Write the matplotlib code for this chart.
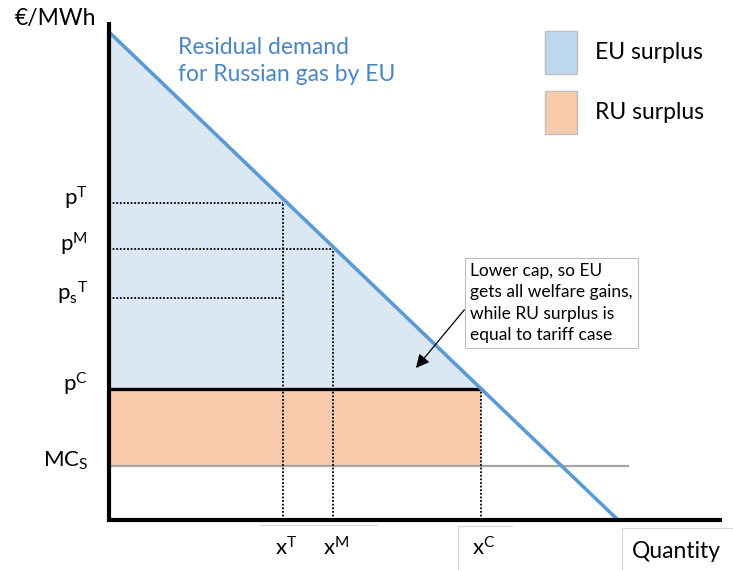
import numpy as np
import matplotlib
matplotlib.use("Agg")
import matplotlib.pyplot as plt
from matplotlib.patches import Patch

plt.rcParams['font.family'] = ['Lato', 'DejaVu Sans']
plt.rcParams['mathtext.fontset'] = 'custom'
plt.rcParams['mathtext.rm'] = 'Lato'
plt.rcParams['mathtext.it'] = 'Lato:italic'

# demand curve end points (quantity, price)
demand_q = [0.0, 50.9]
demand_p = [48.8, 0.0]

# price levels
price_names = ['pT', 'pM', 'psT', 'pC', 'MC']
price_vals = [31.7, 27.1, 22.2, 13.1, 5.4]
price_labels = [r'$\mathrm{p}^{\mathrm{T}}$', r'$\mathrm{p}^{\mathrm{M}}$',
                r'${\mathrm{p}_{\mathrm{s}}}^{\mathrm{T}}$', r'$\mathrm{p}^{\mathrm{C}}$',
                r'$\mathrm{MC}_{\mathrm{S}}$']

# quantity levels
qty_names = ['xT', 'xM', 'xC']
qty_vals = [17.4, 22.4, 37.2]
qty_labels = [r'$\mathrm{x}^{\mathrm{T}}$', r'$\mathrm{x}^{\mathrm{M}}$', r'$\mathrm{x}^{\mathrm{C}}$']

mc_end = 51.9
x_axis_end = 61.3
y_axis_end = 49.8

P = dict(zip(price_names, price_vals))
X = dict(zip(qty_names, qty_vals))

blue_fill = '#DCE7F4'
orange_fill = '#F8CBAD'
line_blue = '#5B9BD5'
text_blue = '#4A86C4'

fig = plt.figure(figsize=(7.33, 5.70), dpi=100)
ax = fig.add_axes([0, 0, 1, 1])
ax.set_xlim(-10.9, 62.4)
ax.set_ylim(-5.0, 52.0)
ax.axis('off')

# EU surplus (under demand, above cap price)
q = np.linspace(0, X['xC'], 50)
ax.fill_between(q, np.interp(q, demand_q, demand_p), P['pC'], color=blue_fill, lw=0, zorder=1)
# RU surplus
ax.fill_between([0, X['xC']], P['MC'], P['pC'], color=orange_fill, lw=0, zorder=1)

# marginal cost line
ax.plot([0, mc_end], [P['MC'], P['MC']], color='#A6A6A6', lw=1.6, zorder=2)

# dotted guides
dot = dict(color='black', lw=1.3, ls=(0, (1, 1)), zorder=3)
ax.plot([0, X['xT']], [P['pT'], P['pT']], **dot)
ax.plot([0, X['xM']], [P['pM'], P['pM']], **dot)
ax.plot([0, X['xT']], [P['psT'], P['psT']], **dot)
ax.plot([X['xT'], X['xT']], [0, P['pT']], **dot)
ax.plot([X['xM'], X['xM']], [0, P['pM']], **dot)
ax.plot([X['xC'], X['xC']], [0, P['pC']], **dot)

# price cap line
ax.plot([0, X['xC']], [P['pC'], P['pC']], color='black', lw=2.4, zorder=4)

# demand
ax.plot(demand_q, demand_p, color=line_blue, lw=2.6, zorder=5)

# axes
ax.plot([0, 0], [-0.2, y_axis_end], color='black', lw=3, zorder=6, solid_capstyle='butt')
ax.plot([-0.2, x_axis_end], [0, 0], color='black', lw=3, zorder=6, solid_capstyle='butt')

# labels
ax.text(-9.4, 50.2, '€/MWh', fontsize=16.5, va='center', ha='left')
for v, lab in zip(price_vals, price_labels):
    ax.text(-2.1, v + 0.5, lab, fontsize=16, ha='right', va='center')
for v, lab in zip(qty_vals, qty_labels):
    ax.text(v + 0.3, -2.8, lab, fontsize=16, ha='center', va='center')
ax.text(56.7, -3.1, 'Quantity', fontsize=16.5, ha='center', va='center')

# faint text box edges under the axis
edge = dict(color='#D9D9D9', lw=0.8, zorder=0)
ax.plot([15.1, 26.8], [-0.5, -0.5], **edge)
ax.plot([X['xC'] - 2.3, X['xC'] + 3.1], [-0.6, -0.6], **edge)
ax.plot([X['xC'] - 2.3, X['xC'] - 2.3], [-0.6, -5.0], **edge)
ax.plot([51.3, 62.4], [-0.8, -0.8], **edge)
ax.plot([51.3, 51.3], [-0.8, -5.0], **edge)

ax.text(6.9, 45.9, 'Residual demand\nfor Russian gas by EU', color=text_blue,
        fontsize=16.5, ha='left', va='center', linespacing=1.4)

ax.annotate('Lower cap, so EU\ngets all welfare gains,\nwhile RU surplus is\nequal to tariff case',
            xy=(30.7, 15.2), xytext=(36.1, 21.7), fontsize=12.5, ha='left', va='center',
            linespacing=1.42,
            bbox=dict(boxstyle='square,pad=0.3', fc='white', ec='#BFBFBF', lw=0.8),
            arrowprops=dict(arrowstyle='-|>', color='black', lw=0.9, mutation_scale=20,
                            shrinkA=0, shrinkB=0, relpos=(0, 0.5)),
            zorder=7)

handles = [Patch(facecolor='#BDD7EE', edgecolor='#BFBFBF', label='EU surplus'),
           Patch(facecolor=orange_fill, edgecolor='#BFBFBF', label='RU surplus')]
ax.legend(handles=handles, loc='upper left', bbox_to_anchor=(545 / 733, 1 - 31 / 570),
          frameon=False, fontsize=16.5, handlelength=1.4, handleheight=2.5,
          labelspacing=0.75, handletextpad=0.8, borderpad=0, borderaxespad=0)

fig.savefig('out.png', dpi=100)
